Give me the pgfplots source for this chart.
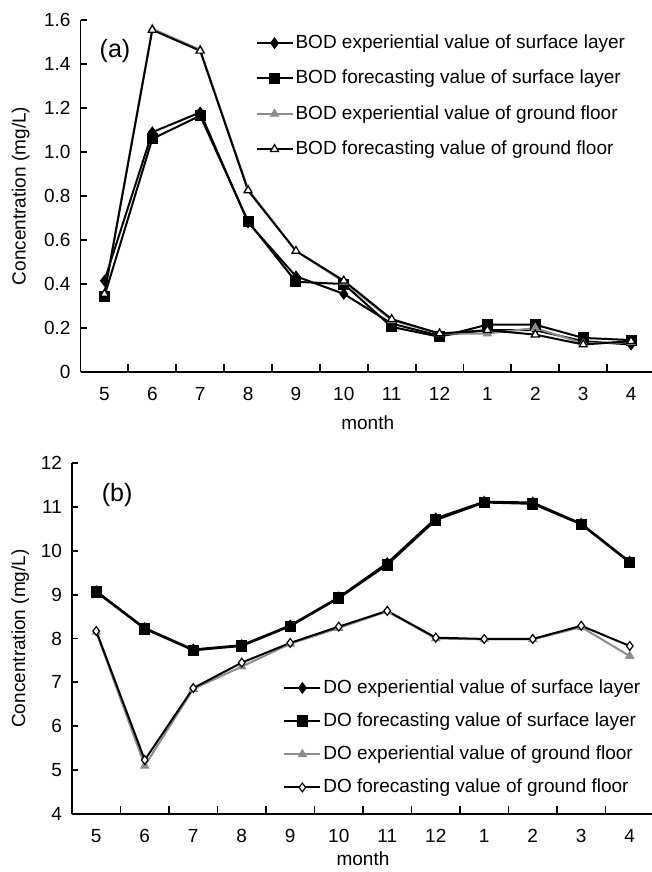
\documentclass[border=0pt]{standalone}
\usepackage{fontspec}
\setmainfont{Liberation Sans}
\usepackage{pgfplots}
\pgfplotsset{compat=1.18}

\pgfplotsset{
  panel/.style={
    scale only axis,
    clip=false,
    xmin=-0.5, xmax=11.5,
    axis x line*=bottom, axis y line*=left,
    axis line style={line width=0.9pt},
    xtick={0,...,11},
    xticklabels={5,6,7,8,9,10,11,12,1,2,3,4},
    minor xtick={0.5,1.5,...,11.5},
    major x tick style={draw=none},
    minor x tick style={line width=0.9pt, black},
    minor tick length=4pt,
    major tick length=3pt,
    ytick style={line width=0.9pt, black},
    tick align=inside,
    xticklabel style={yshift=-4pt},
    yticklabel style={xshift=-1.5pt},
    tick label style={font=\fontsize{9.5}{11}\selectfont},
    label style={font=\fontsize{9.5}{11}\selectfont},
    xlabel={month},
    ylabel={Concentration (mg/L)},
    /pgf/number format/assume math mode=true,
    legend cell align=left,
    legend style={draw=none, fill=none, inner sep=0pt, anchor=north west,
      font=\fontsize{9.5}{11}\selectfont, nodes={inner sep=1pt}},
    legend image code/.code={\draw[mark repeat=2,mark phase=2,#1]
      plot coordinates {(0pt,0pt) (9pt,0pt) (18pt,0pt)};},
    every axis plot/.append style={line width=1pt},
  },
}

\begin{document}
\begin{tikzpicture}[font=\fontsize{9.5}{11}\selectfont]
\useasboundingbox (0,0) rectangle (326pt,-436pt);

% panel (a): BOD
\begin{axis}[panel,
  at={(40.25pt,-186pt)}, anchor=south west,
  width=287.25pt, height=176pt,
  ymin=0, ymax=1.6,
  ytick={0,0.2,0.4,0.6,0.8,1.0,1.2,1.4,1.6},
  yticklabels={0,0.2,0.4,0.6,0.8,1.0,1.2,1.4,1.6},
  xlabel style={at={(axis description cs:0.5,-0.145)}, anchor=center},
  ylabel style={at={(axis description cs:-0.104,0.5)}, anchor=center},
  legend style={at={(rel axis cs:0.304,0.965)}, row sep=7.3pt},
]
\addplot[black, mark=diamond*, mark size=2.6pt, mark options={solid, fill=black, line width=0.5pt}] coordinates {
  (0,0.415) (1,1.09) (2,1.18) (3,0.68) (4,0.435) (5,0.355)
  (6,0.22) (7,0.165) (8,0.19) (9,0.19) (10,0.14) (11,0.125)
};
\addplot[black, mark=square*, mark size=2.5pt, mark options={solid, fill=black, line width=0.5pt}] coordinates {
  (0,0.345) (1,1.06) (2,1.165) (3,0.685) (4,0.41) (5,0.40)
  (6,0.205) (7,0.16) (8,0.215) (9,0.215) (10,0.155) (11,0.145)
};
\addplot[black!45, mark=triangle*, mark size=2.3pt, mark options={solid, fill=black!45, line width=0.5pt}] coordinates {
  (0,0.355) (1,1.56) (2,1.465) (3,0.83) (4,0.55) (5,0.41)
  (6,0.235) (7,0.175) (8,0.175) (9,0.20) (10,0.13) (11,0.135)
};
\addplot[black, mark=triangle*, mark size=2.3pt, mark options={solid, fill=white, draw=black, line width=0.6pt}] coordinates {
  (0,0.355) (1,1.555) (2,1.46) (3,0.825) (4,0.55) (5,0.415)
  (6,0.24) (7,0.175) (8,0.19) (9,0.17) (10,0.125) (11,0.14)
};
\legend{BOD experiential value of surface layer,
        BOD forecasting value of surface layer,
        BOD experiential value of ground floor,
        BOD forecasting value of ground floor}
\node[font=\fontsize{12.5}{14}\selectfont] at (axis cs:0.22,1.46) {(a)};
\end{axis}

% panel (b): DO
\begin{axis}[panel,
  at={(36pt,-407pt)}, anchor=south west,
  width=291pt, height=175.5pt,
  ymin=4, ymax=12,
  ytick={4,5,6,7,8,9,10,11,12},
  yticklabels={4,5,6,7,8,9,10,11,12},
  xlabel style={at={(axis description cs:0.5,-0.128)}, anchor=center},
  ylabel style={at={(axis description cs:-0.089,0.5)}, anchor=center},
  legend style={at={(rel axis cs:0.3625,0.39)}, row sep=6.2pt},
]
\addplot[black, mark=diamond*, mark size=2.6pt, mark options={solid, fill=black, line width=0.5pt}] coordinates {
  (0,9.08) (1,8.24) (2,7.75) (3,7.85) (4,8.30) (5,8.94)
  (6,9.72) (7,10.74) (8,11.12) (9,11.10) (10,10.62) (11,9.75)
};
\addplot[black, mark=square*, mark size=2.6pt, mark options={solid, fill=black, line width=0.5pt}] coordinates {
  (0,9.06) (1,8.22) (2,7.73) (3,7.83) (4,8.28) (5,8.92)
  (6,9.68) (7,10.70) (8,11.10) (9,11.07) (10,10.60) (11,9.73)
};
\addplot[black!45, mark=triangle*, mark size=2.3pt, mark options={solid, fill=black!45, line width=0.5pt}] coordinates {
  (0,8.15) (1,5.10) (2,6.85) (3,7.36) (4,7.88) (5,8.24)
  (6,8.62) (7,8.00) (8,7.98) (9,7.98) (10,8.26) (11,7.60)
};
\addplot[black, mark=diamond*, mark size=2.2pt, mark options={solid, fill=white, draw=black, line width=0.6pt}] coordinates {
  (0,8.17) (1,5.23) (2,6.87) (3,7.45) (4,7.90) (5,8.27)
  (6,8.63) (7,8.02) (8,7.99) (9,7.99) (10,8.29) (11,7.83)
};
\legend{DO experiential value of surface layer,
        DO forecasting value of surface layer,
        DO experiential value of ground floor,
        DO forecasting value of ground floor}
\node[font=\fontsize{12.5}{14}\selectfont] at (axis cs:0.43,11.27) {(b)};
\end{axis}
\end{tikzpicture}
\end{document}
